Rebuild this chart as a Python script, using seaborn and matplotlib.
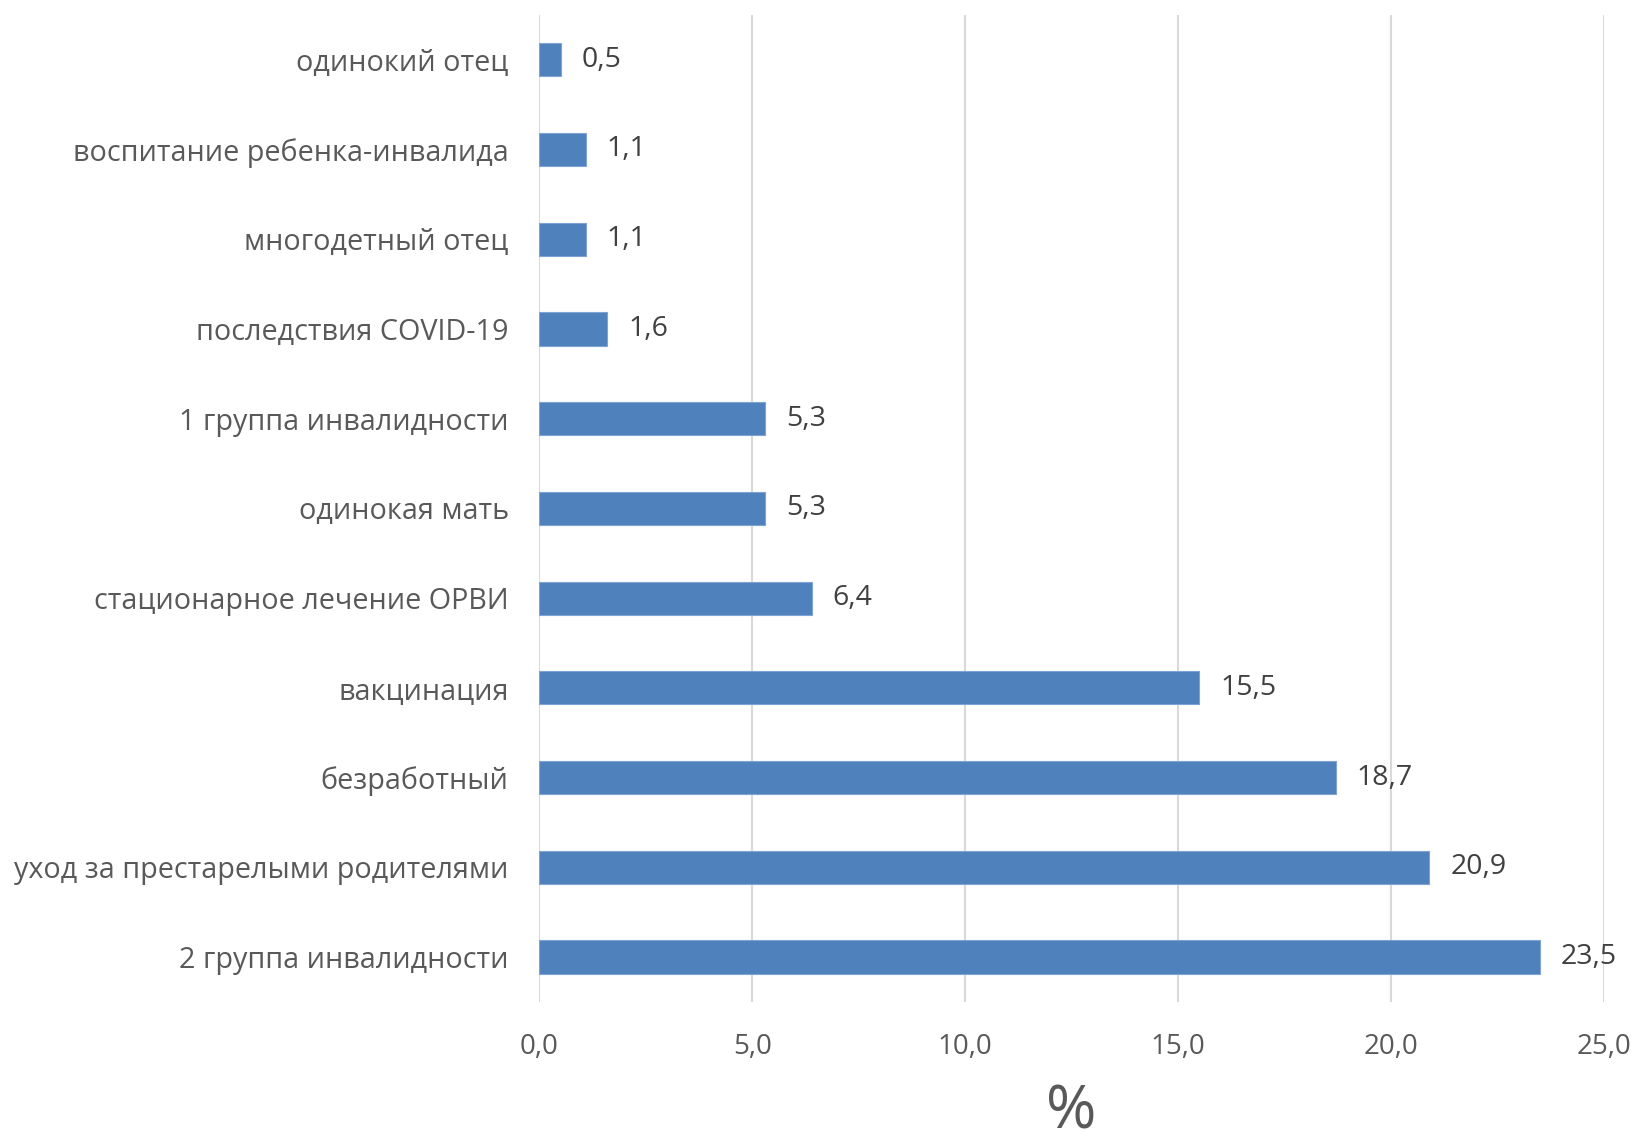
import matplotlib
matplotlib.use("Agg")
import matplotlib.pyplot as plt
import seaborn as sns
import pandas as pd

categories = [
    "одинокий отец",
    "воспитание ребенка-инвалида",
    "многодетный отец",
    "последствия COVID-19",
    "1 группа инвалидности",
    "одинокая мать",
    "стационарное лечение ОРВИ",
    "вакцинация",
    "безработный",
    "уход за престарелыми родителями",
    "2 группа инвалидности",
]
percent = [0.5, 1.1, 1.1, 1.6, 5.3, 5.3, 6.4, 15.5, 18.7, 20.9, 23.5]
x_ticks = [0, 5, 10, 15, 20, 25]

df = pd.DataFrame({"category": categories, "percent": percent})

sns.set_style("white")
plt.rcParams["font.family"] = ["Open Sans", "DejaVu Sans"]
text_color = "#595959"

fig = plt.figure(figsize=(16.34, 11.46), dpi=100)
ax = fig.add_axes([0.330, 0.1257, 0.6517, 0.8613])

sns.barplot(data=df, x="percent", y="category", orient="h", order=categories,
            color="#4F81BD", saturation=1, width=0.37, ax=ax,
            edgecolor="#7FA3D3", linewidth=0.8)

# value labels with decimal comma
ax.bar_label(ax.containers[0], labels=[f"{v:.1f}".replace(".", ",") for v in percent],
             padding=15, fontsize=20.5, color="#404040")

ax.set_xlim(0, 25)
ax.set_xticks(x_ticks)
ax.set_xticklabels([f"{t:.1f}".replace(".", ",") for t in x_ticks])
ax.grid(True, axis="x", color="#D9D9D9", linewidth=1.5)
ax.set_axisbelow(True)
for s in ax.spines.values():
    s.set_visible(False)

ax.tick_params(axis="x", length=0, pad=22, labelsize=20, labelcolor=text_color)
ax.tick_params(axis="y", length=0, pad=22, labelsize=20.7, labelcolor=text_color)
ax.set_ylabel("")
ax.set_xlabel("%", fontsize=44, color=text_color, labelpad=16)

fig.savefig("out.png", dpi=100)
